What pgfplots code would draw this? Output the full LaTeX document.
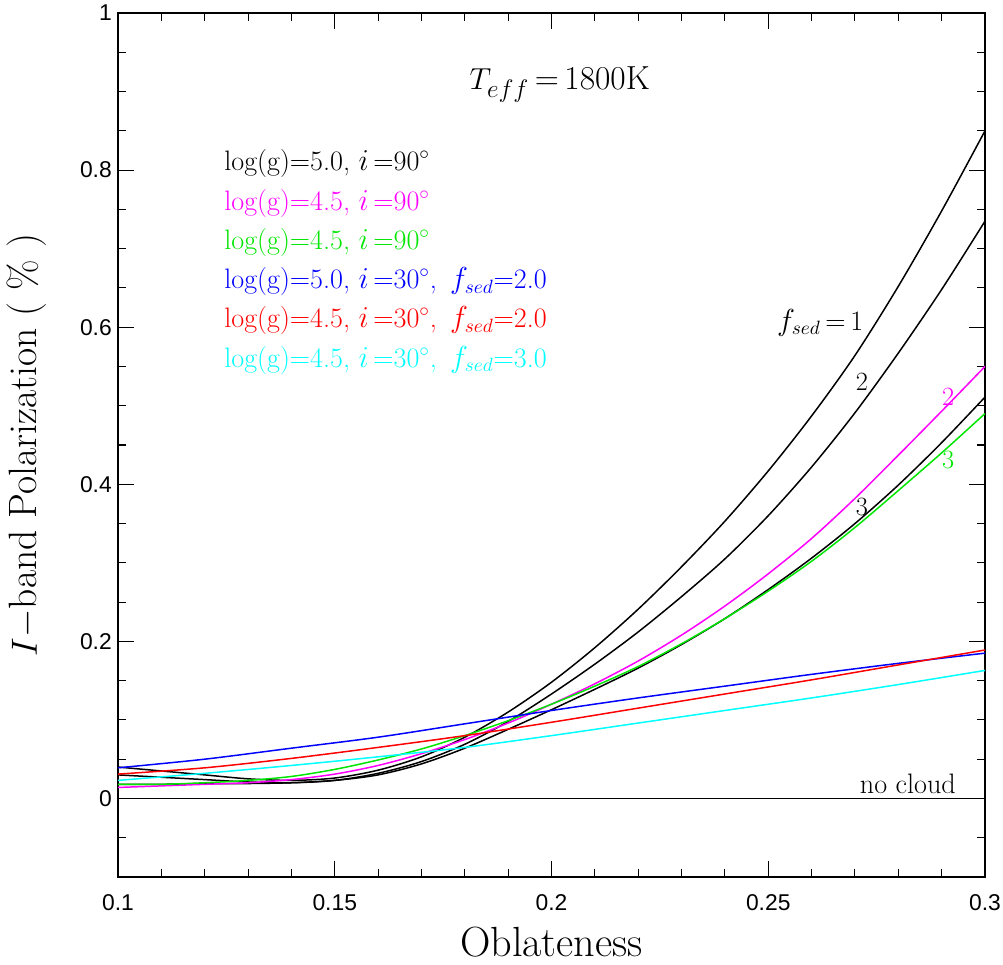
\documentclass[border=0pt]{standalone}
\usepackage{fontspec}
\usepackage{pgfplots}
\pgfplotsset{compat=1.18}
\newfontfamily\ticksans{Liberation Sans}
\definecolor{cmag}{RGB}{255,0,255}
\definecolor{cgrn}{RGB}{0,230,0}
\definecolor{cblu}{RGB}{0,0,255}
\definecolor{cred}{RGB}{255,0,0}
\definecolor{ccya}{RGB}{0,255,255}
\newcommand{\lfont}{\fontsize{16}{19}\selectfont}
\begin{document}
\begin{tikzpicture}
\useasboundingbox (-2.36,-1.74) rectangle (17.70,17.54);
\begin{axis}[
    scale only axis,
    width=17.34cm, height=17.28cm,
    xmin=0.1, xmax=0.3,
    ymin=-0.1, ymax=1,
    xtick={0.1,0.15,0.2,0.25,0.3},
    minor x tick num=4,
    ytick={0,0.2,0.4,0.6,0.8,1},
    minor ytick={-0.05,0.05,0.1,0.15,0.25,0.3,0.35,0.45,0.5,0.55,0.65,0.7,0.75,0.85,0.9,0.95},
    tick align=inside,
    major tick length=0.32cm,
    minor tick length=0.16cm,
    every tick/.style={black, line width=0.6pt},
    axis line style={line width=1.1pt},
    /pgf/number format/assume math mode=true,
    ticklabel style={font=\fontsize{13}{15}\selectfont\ticksans},
    xticklabel style={yshift=-0.22cm},
    scaled ticks=false,
    xlabel={Oblateness},
    ylabel={$I-$band Polarization (\ \%\ )},
    xlabel style={font=\fontsize{24}{28}\selectfont, at={(axis description cs:0.5,-0.075)}, anchor=center},
    ylabel style={font=\fontsize{22.5}{27}\selectfont, at={(axis description cs:-0.105,0.5)}, anchor=center},
    every axis plot/.append style={line width=0.85pt, smooth, mark=none},
]
% no cloud
\addplot[black, sharp plot] coordinates {(0.1,0) (0.3,0)};

% log(g)=5.0, i=90, fsed=1,2,3
\addplot[black] coordinates {
(0.10,0.040)(0.11,0.035)(0.12,0.030)(0.13,0.025)(0.14,0.023)(0.15,0.026)(0.16,0.036)
(0.17,0.053)(0.18,0.078)(0.19,0.110)(0.20,0.148)(0.21,0.192)(0.22,0.241)(0.23,0.295)
(0.24,0.353)(0.25,0.417)(0.26,0.487)(0.27,0.564)(0.28,0.652)(0.29,0.748)(0.30,0.850)};
\addplot[black] coordinates {
(0.10,0.030)(0.11,0.027)(0.12,0.024)(0.13,0.021)(0.14,0.020)(0.15,0.023)(0.16,0.032)
(0.17,0.047)(0.18,0.069)(0.19,0.098)(0.20,0.133)(0.21,0.171)(0.22,0.212)(0.23,0.257)
(0.24,0.305)(0.25,0.360)(0.26,0.422)(0.27,0.491)(0.28,0.567)(0.29,0.648)(0.30,0.735)};
\addplot[black] coordinates {
(0.10,0.018)(0.11,0.018)(0.12,0.019)(0.13,0.019)(0.14,0.020)(0.15,0.023)(0.16,0.030)
(0.17,0.044)(0.18,0.064)(0.19,0.088)(0.20,0.113)(0.21,0.139)(0.22,0.166)(0.23,0.196)
(0.24,0.229)(0.25,0.266)(0.26,0.306)(0.27,0.350)(0.28,0.399)(0.29,0.453)(0.30,0.511)};

% log(g)=4.5, i=90, fsed=2 and 3
\addplot[cmag] coordinates {
(0.10,0.014)(0.11,0.016)(0.12,0.018)(0.13,0.020)(0.14,0.024)(0.15,0.031)(0.16,0.042)
(0.17,0.057)(0.18,0.075)(0.19,0.096)(0.20,0.120)(0.21,0.146)(0.22,0.175)(0.23,0.208)
(0.24,0.245)(0.25,0.286)(0.26,0.331)(0.27,0.382)(0.28,0.437)(0.29,0.493)(0.30,0.550)};
\addplot[cgrn] coordinates {
(0.10,0.018)(0.11,0.018)(0.12,0.020)(0.13,0.023)(0.14,0.028)(0.15,0.037)(0.16,0.049)
(0.17,0.063)(0.18,0.080)(0.19,0.099)(0.20,0.120)(0.21,0.143)(0.22,0.168)(0.23,0.197)
(0.24,0.229)(0.25,0.264)(0.26,0.302)(0.27,0.345)(0.28,0.392)(0.29,0.440)(0.30,0.490)};

% i=30
\addplot[cblu] coordinates {
(0.10,0.039)(0.12,0.050)(0.14,0.064)(0.16,0.078)(0.18,0.095)(0.20,0.112)
(0.22,0.128)(0.24,0.143)(0.26,0.158)(0.28,0.172)(0.30,0.185)};
\addplot[cred] coordinates {
(0.10,0.031)(0.12,0.039)(0.14,0.051)(0.16,0.065)(0.18,0.080)(0.20,0.097)
(0.22,0.115)(0.24,0.133)(0.26,0.151)(0.28,0.170)(0.30,0.189)};
\addplot[ccya] coordinates {
(0.10,0.023)(0.12,0.032)(0.14,0.042)(0.16,0.053)(0.18,0.065)(0.20,0.080)
(0.22,0.096)(0.24,0.112)(0.26,0.128)(0.28,0.145)(0.30,0.163)};

% annotations
\node[anchor=base west, font=\fontsize{19}{23}\selectfont] at (axis cs:0.1797,0.902) {$T_{eff}$\,=\,1800K};
\node[anchor=base west, font=\lfont, text=black] at (axis cs:0.1231,0.800) {log(g)=5.0, $i$\,=90$^\circ$};
\node[anchor=base west, font=\lfont, text=cmag] at (axis cs:0.1231,0.749) {log(g)=4.5, $i$\,=90$^\circ$};
\node[anchor=base west, font=\lfont, text=cgrn] at (axis cs:0.1231,0.699) {log(g)=4.5, $i$\,=90$^\circ$};
\node[anchor=base west, font=\lfont, text=cblu] at (axis cs:0.1231,0.649) {log(g)=5.0, $i$\,=30$^\circ$, \,$f_{sed}$=2.0};
\node[anchor=base west, font=\lfont, text=cred] at (axis cs:0.1231,0.5996) {log(g)=4.5, $i$\,=30$^\circ$, \,$f_{sed}$=2.0};
\node[anchor=base west, font=\lfont, text=ccya] at (axis cs:0.1231,0.549) {log(g)=4.5, $i$\,=30$^\circ$, \,$f_{sed}$=3.0};

\node[font=\lfont] at (axis cs:0.262,0.606) {$f_{sed}$\,=\,1};
\node[font=\fontsize{15}{18}\selectfont] at (axis cs:0.2716,0.530) {2};
\node[font=\fontsize{15}{18}\selectfont, text=cmag] at (axis cs:0.2915,0.511) {2};
\node[font=\fontsize{15}{18}\selectfont] at (axis cs:0.2716,0.371) {3};
\node[font=\fontsize{15}{18}\selectfont, text=cgrn] at (axis cs:0.2915,0.4306) {3};
\node[font=\lfont] at (axis cs:0.2822,0.019) {no cloud};
\end{axis}
\end{tikzpicture}
\end{document}
